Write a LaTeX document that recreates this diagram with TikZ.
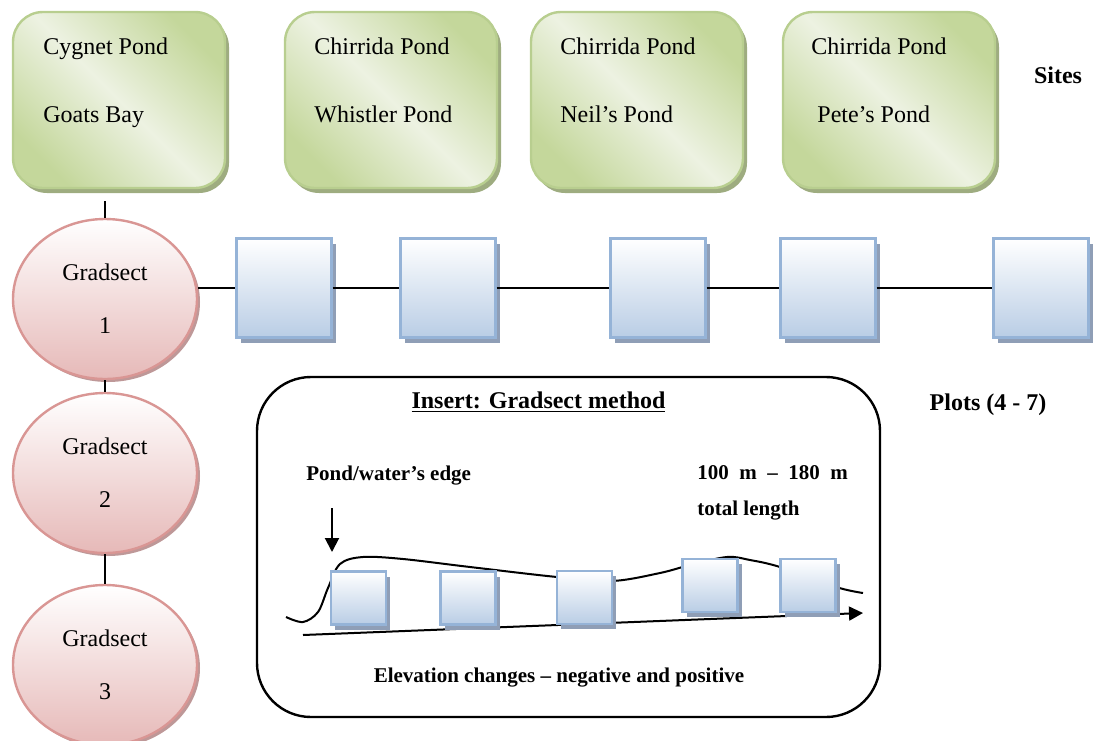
\documentclass[tikz,border=0pt]{standalone}
\usepackage{fontspec}
\setmainfont{Liberation Serif}
\usepackage{tikz}
\usetikzlibrary{shapes.geometric, arrows.meta, shadows}

\definecolor{sitedark}{RGB}{196,215,155}
\definecolor{sitelight}{RGB}{237,242,226}
\definecolor{siteline}{RGB}{184,206,143}
\definecolor{siteshade}{RGB}{158,172,128}
\definecolor{gradfill}{RGB}{230,185,184}
\definecolor{gradline}{RGB}{217,150,148}
\definecolor{gradshade}{RGB}{190,152,152}
\definecolor{plotfill}{RGB}{185,205,229}
\definecolor{plotline}{RGB}{149,179,215}
\definecolor{plotshade}{RGB}{143,158,182}

\tikzstyle{site} = [rectangle, rounded corners=15pt, minimum width=106pt, minimum height=88pt, draw=siteline, line width=1.2pt, top color=sitedark, bottom color=sitedark, middle color=sitelight, shading angle=-45, drop shadow={shadow xshift=2pt, shadow yshift=-2.5pt, fill=siteshade, opacity=1}]
\tikzstyle{sitetext} = [anchor=base west, inner sep=0pt, font=\fontsize{12}{14.4}\selectfont]
\tikzstyle{gradsect} = [ellipse, minimum width=92pt, minimum height=80pt, inner sep=0pt, draw=gradline, line width=1.2pt, top color=white, bottom color=gradfill, align=center, font=\fontsize{12}{14.4}\selectfont, drop shadow={shadow xshift=1.5pt, shadow yshift=-1.5pt, fill=gradshade, opacity=1}]
\tikzstyle{plot} = [rectangle, minimum width=47.5pt, minimum height=49.5pt, draw=plotline, line width=1.2pt, top color=white, bottom color=plotfill, drop shadow={shadow xshift=2pt, shadow yshift=-2.5pt, fill=plotshade, opacity=1}]
\tikzstyle{miniplot} = [plot, minimum width=27.5pt, minimum height=26.5pt]
\tikzstyle{tag} = [anchor=base, inner sep=0pt, font=\bfseries\fontsize{12}{14.4}\selectfont]
\tikzstyle{note} = [anchor=base west, inner sep=0pt, font=\bfseries\fontsize{10.5}{12.6}\selectfont]
\tikzstyle{link} = [line width=1pt]
\tikzstyle{arrow} = [line width=1pt, -{Triangle[length=7pt, width=7pt]}]

\begin{document}
\begin{tikzpicture}[x=0.5pt, y=-0.5pt]
\useasboundingbox (0,0) rectangle (1093,740);

% sites along the top
\node (site1) [site] at (119,100) {};
\node (site2) [site] at (391,100) {};
\node (site3) [site] at (637,100) {};
\node (site4) [site] at (889,100) {};
\node (s1a) [sitetext] at (43,54) {Cygnet Pond};
\node (s1b) [sitetext] at (43,122) {Goats Bay};
\node (s2a) [sitetext] at (314,54) {Chirrida Pond};
\node (s2b) [sitetext] at (314,122) {Whistler Pond};
\node (s3a) [sitetext] at (560,54) {Chirrida Pond};
\node (s3b) [sitetext] at (560,122) {Neil's Pond};
\node (s4a) [sitetext] at (811,54) {Chirrida Pond};
\node (s4b) [sitetext] at (817,122) {Pete's Pond};
\node (sites) [tag] at (1058,83) {Sites};

% gradsects down the left
\node (g1) [gradsect] at (105,299) {Gradsect\\[12pt]1};
\node (g2) [gradsect] at (105,473) {Gradsect\\[12pt]2};
\node (g3) [gradsect] at (105,665) {Gradsect\\[12pt]3};

% plots on gradsect 1
\node (p1) [plot] at (284,288) {};
\node (p2) [plot] at (448,288) {};
\node (p3) [plot] at (658,288) {};
\node (p4) [plot] at (828,288) {};
\node (p5) [plot] at (1041,288) {};
\node (plots) [tag] at (988,410) {Plots (4 - 7)};

\draw [link, shorten <=6pt] (site1.south -| g1.north) -- (g1.north);
\draw [link] (g1.south) -- (g2.north);
\draw [link] (g2.south) -- (g3.north);
\draw [link] (g1.east |- p1.west) -- (p1.west);
\draw [link] (p1.east) -- (p2.west);
\draw [link] (p2.east) -- (p3.west);
\draw [link] (p3.east) -- (p4.west);
\draw [link] (p4.east) -- (p5.west);

% insert
\node (insert) [rectangle, rounded corners=27pt, draw, line width=1.2pt, minimum width=311.5pt, minimum height=170pt] at (568.5,547) {};
\node (title) [tag] at (538.5,408) {\underline{Insert: Gradsect method}};
\node (edge) [note] at (306,480) {Pond/water's edge};
\node (len1) [note] at (697,479) {100\ \ m\ \ –\ \ 180\ \ m};
\node (len2) [note] at (697,515) {total length};
\node (elev) [note, anchor=base] at (559,682) {Elevation changes – negative and positive};

\coordinate (edgetop) at (332,508);
\coordinate (edgebot) at (332,552);
\coordinate (gstart) at (303,635);
\coordinate (gend) at (863,613);
\draw [arrow] (edgetop) -- (edgebot);
\draw [line width=1pt] plot[smooth, tension=0.55] coordinates {(286,617) (303,622) (318,612) (328,588) (340,564) (363,557) (403,559) (470,567) (557,577) (612,581) (660,573) (690,565) (727,557) (750,560) (780,567) (836,587) (863,593)};
\draw [arrow] (gstart) -- (gend);

\node (q1) [miniplot] at (358.5,598) {};
\node (q2) [miniplot] at (468,598) {};
\node (q3) [miniplot] at (584.5,597.5) {};
\node (q4) [miniplot] at (710,585.5) {};
\node (q5) [miniplot] at (808,585.5) {};
\end{tikzpicture}
\end{document}
